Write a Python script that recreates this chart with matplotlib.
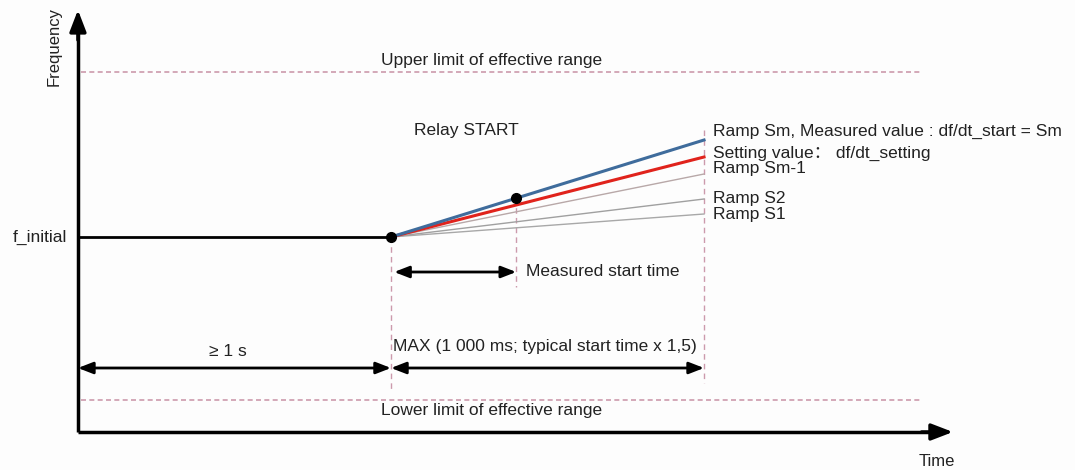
import matplotlib.pyplot as plt

plt.rcParams['font.family'] = ['Liberation Sans', 'Noto Sans CJK SC', 'DejaVu Sans']

# time in s, frequency as offset from f_initial (arbitrary units)
t_start = 1.0
t_meas = 1.4
t_end = 2.0
t_axis_end = 2.795
f_axis_top = 2.27
f_axis_bottom = -1.95
f_upper = 1.65
f_lower = -1.63

ramp_names = ['Ramp S1', 'Ramp S2', 'Ramp Sm-1', 'Setting value', 'Ramp Sm']
ramp_slopes = [0.23, 0.38, 0.63, 0.80, 0.97]
ramp_colors = ['#a8a8a8', '#a0a0a0', '#b8a8a8', '#e0231c', '#3f6c9c']
ramp_widths = [1.0, 1.0, 1.0, 2.2, 2.2]

right_labels = ['Ramp Sm, Measured value : df/dt_start = Sm',
                'Setting value： df/dt_setting',
                'Ramp Sm-1', 'Ramp S2', 'Ramp S1']
right_label_f = [1.06, 0.84, 0.69, 0.38, 0.22]

pink = '#cc9aac'
txt = '#222222'
fs = 12.5

fig = plt.figure(figsize=(10.75, 4.7), dpi=100, facecolor='#fdfdfd')
ax = fig.add_axes([0, 0, 1, 1])
ax.set_xlim(-0.249, 3.185)
ax.set_ylim(-2.33, 2.37)
ax.axis('off')

# axes with arrows
ax.plot([0, 0], [f_axis_bottom, f_axis_top - 0.2], color='black', lw=2.5, solid_capstyle='butt')
ax.plot([0, t_axis_end - 0.06], [f_axis_bottom, f_axis_bottom], color='black', lw=2.5, solid_capstyle='butt')
ax.annotate('', xy=(0, f_axis_top), xytext=(0, f_axis_top - 0.3),
            arrowprops=dict(arrowstyle='-|>,head_length=1.3,head_width=0.5', color='black', lw=2.5,
                            shrinkA=0, shrinkB=0))
ax.annotate('', xy=(t_axis_end, f_axis_bottom), xytext=(t_axis_end - 0.1, f_axis_bottom),
            arrowprops=dict(arrowstyle='-|>,head_length=1.3,head_width=0.5', color='black', lw=2.5,
                            shrinkA=0, shrinkB=0))
ax.text(-0.075, 1.9, 'Frequency', rotation=90, ha='center', va='center', fontsize=12, color=txt)
ax.text(2.745, -2.24, 'Time', ha='center', va='center', fontsize=12, color=txt)

# effective range limits
ax.plot([0.01, 2.69], [f_upper, f_upper], color=pink, lw=1.2, ls=(0, (3, 2)))
ax.plot([0.01, 2.69], [f_lower, f_lower], color=pink, lw=1.2, ls=(0, (3, 2)))
ax.text(1.32, f_upper + 0.11, 'Upper limit of effective range', ha='center', va='center',
        fontsize=fs, color=txt)
ax.text(1.32, f_lower - 0.11, 'Lower limit of effective range', ha='center', va='center',
        fontsize=fs, color=txt)

# vertical markers
ax.plot([t_start, t_start], [0, -1.52], color=pink, lw=1, ls=(0, (4, 3)))
ax.plot([t_meas, t_meas], [ramp_slopes[-1] * (t_meas - t_start), -0.5], color=pink, lw=1, ls=(0, (4, 3)))
ax.plot([t_end, t_end], [1.07, -1.46], color=pink, lw=1, ls=(0, (4, 3)))

# f_initial level and ramps
ax.plot([0, t_start], [0, 0], color='black', lw=2)
ax.text(-0.035, 0, 'f_initial', ha='right', va='center', fontsize=fs, color=txt)
for slope, color, lw in zip(ramp_slopes, ramp_colors, ramp_widths):
    ax.plot([t_start, t_end], [0, slope * (t_end - t_start)], color=color, lw=lw)
ax.plot([t_start, t_meas], [0, ramp_slopes[-1] * (t_meas - t_start)], 'o', color='black', ms=7)

for label, f in zip(right_labels, right_label_f):
    ax.text(2.03, f, label, ha='left', va='center', fontsize=fs, color=txt)
ax.text(1.24, 1.06, 'Relay START', ha='center', va='center', fontsize=fs, color=txt)

# time intervals
arrow = dict(arrowstyle='<|-|>,head_length=0.9,head_width=0.35', color='black', lw=2,
             shrinkA=0, shrinkB=0)
ax.annotate('', xy=(0, -1.31), xytext=(t_start, -1.31), arrowprops=arrow)
ax.annotate('', xy=(t_start, -1.31), xytext=(t_end, -1.31), arrowprops=arrow)
ax.annotate('', xy=(t_start + 0.01, -0.35), xytext=(t_meas, -0.35), arrowprops=arrow)
ax.text(0.48, -1.15, '≥ 1 s', ha='center', va='center', fontsize=fs, color=txt)
ax.text(t_start + 0.005, -1.1, 'MAX (1 000 ms; typical start time x 1,5)', ha='left', va='center',
        fontsize=fs, color=txt)
ax.text(t_meas + 0.03, -0.34, 'Measured start time', ha='left', va='center', fontsize=fs,
        color=txt)

fig.savefig('out.png', dpi=100, facecolor=fig.get_facecolor())
